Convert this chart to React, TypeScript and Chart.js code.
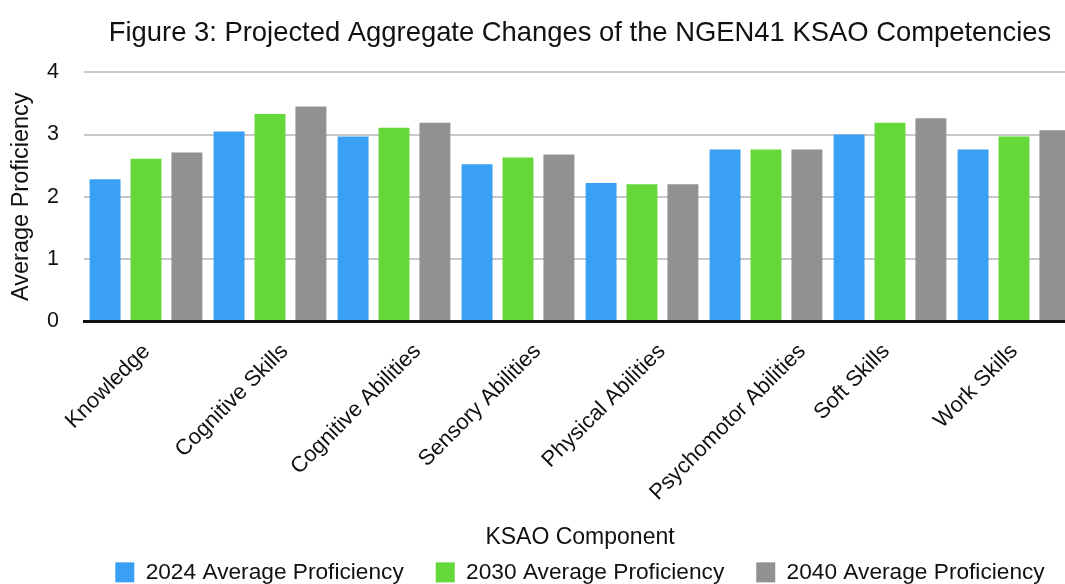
import React, { useEffect, useRef } from "react";
import { Chart, registerables } from "chart.js";

Chart.register(...registerables);

const categories = [
  "Knowledge",
  "Cognitive Skills",
  "Cognitive Abilities",
  "Sensory Abilities",
  "Physical Abilities",
  "Psychomotor Abilities",
  "Soft Skills",
  "Work Skills",
];
const values2024 = [2.28, 3.05, 2.97, 2.52, 2.22, 2.76, 3.0, 2.76];
const values2030 = [2.61, 3.33, 3.11, 2.63, 2.2, 2.76, 3.19, 2.97];
const values2040 = [2.71, 3.45, 3.19, 2.68, 2.2, 2.76, 3.26, 3.07];
const seriesNames = [
  "2024 Average Proficiency",
  "2030 Average Proficiency",
  "2040 Average Proficiency",
];
const yTicks = [0, 1, 2, 3, 4];

const FONT = "'Liberation Sans', Arial, Helvetica, sans-serif";

const xLabelPlugin = {
  id: "xLabels",
  afterDraw(chart: any) {
    const xs = chart.scales.x;
    const ctx = chart.ctx;
    ctx.save();
    ctx.font = `22px ${FONT}`;
    ctx.fillStyle = "#111";
    ctx.textAlign = "right";
    ctx.textBaseline = "middle";
    categories.forEach((label, i) => {
      const x = xs.getPixelForValue(i);
      const L = ctx.measureText(label).width;
      const ax = x - 38 + 0.3536 * L;
      const ay = xs.top + 27;
      ctx.save();
      ctx.translate(ax, ay);
      ctx.rotate(-Math.PI / 4);
      ctx.fillText(label, 0, 0);
      ctx.restore();
    });
    ctx.restore();
  },
};

export default function App() {
  const ref = useRef<HTMLCanvasElement | null>(null);
  useEffect(() => {
    document.body.style.margin = "0";
    const canvas = ref.current!;
    const colors = ["#3aa0f4", "#65d83a", "#919191"];
    const data = [values2024, values2030, values2040];
    const chart = new Chart(canvas, {
      type: "bar",
      data: {
        labels: categories,
        datasets: data.map((d, i) => ({
          label: seriesNames[i],
          data: d,
          backgroundColor: colors[i],
          borderWidth: 0,
          categoryPercentage: 0.99,
          barPercentage: 0.756,
          yAxisID: "y",
        })),
      },
      plugins: [xLabelPlugin],
      options: {
        responsive: false,
        animation: false,
        layout: { padding: 0 },
        plugins: {
          title: {
            display: true,
            text: "Figure 3: Projected Aggregate Changes of the NGEN41 KSAO Competencies",
            color: "#111",
            font: { family: FONT, size: 27.4, weight: "normal" },
            padding: { top: 17, bottom: 22.5 },
          },
          legend: {
            display: true,
            position: "bottom",
            maxHeight: 55,
            labels: {
              color: "#111",
              font: { family: FONT, size: 22.7 },
              boxWidth: 19,
              boxHeight: 20,
              padding: 32,
            },
          },
          tooltip: { enabled: false },
        },
        scales: {
          x: {
            grid: { display: false, drawTicks: false },
            border: { display: true, color: "#111", width: 3 },
            ticks: { display: false },
            title: {
              display: true,
              text: "KSAO Component",
              color: "#111",
              font: { family: FONT, size: 23 },
              padding: { top: 0, bottom: -22 },
            },
            afterFit: (s: any) => {
              s.height = 208;
            },
          },
          y: {
            position: "left",
            min: 0,
            max: 4,
            afterBuildTicks: (s: any) => {
              s.ticks = yTicks.map((v) => ({ value: v }));
            },
            grid: { color: "#c8c8c8", lineWidth: 2, drawTicks: false },
            border: { display: false },
            ticks: {
              color: "#111",
              font: { family: FONT, size: 21.5 },
              padding: 25,
            },
            title: {
              display: true,
              text: "Average Proficiency",
              color: "#111",
              font: { family: FONT, size: 23.5 },
              padding: { top: 7, bottom: 0 },
            },
            afterFit: (s: any) => {
              s.width = 84;
            },
          },
          y2: {
            position: "right",
            display: true,
            grid: { display: false, drawTicks: false },
            border: { display: false },
            ticks: { display: false },
            afterFit: (s: any) => {
              s.width = 84;
            },
          },
        },
      },
    });
    return () => chart.destroy();
  }, []);
  return (
    <div style={{ width: 1065, height: 584, overflow: "hidden", position: "relative" }}>
      <canvas ref={ref} width={1160} height={584} style={{ display: "block" }} />
    </div>
  );
}
